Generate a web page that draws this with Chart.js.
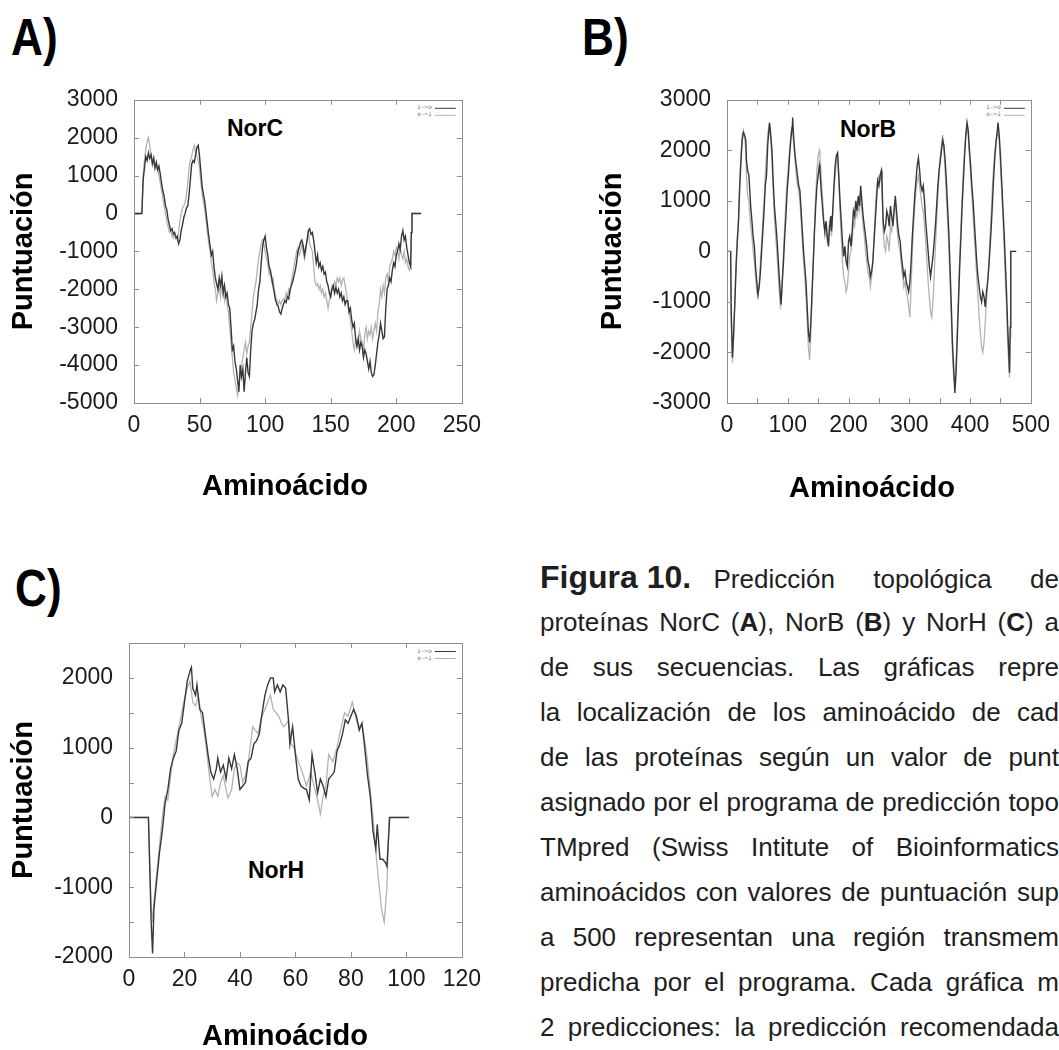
<!DOCTYPE html>
<html>
<head>
<meta charset="utf-8">
<script src="https://cdn.jsdelivr.net/npm/chart.js@4.4.0/dist/chart.umd.min.js"></script>
<style>
  html, body { margin: 0; padding: 0; background: #fff; }
  body { width: 1059px; height: 1050px; position: relative; overflow: hidden;
         font-family: 'Liberation Sans', Arial, sans-serif; color: #111; }
  canvas { position: absolute; }
  .tag { position: absolute; font-weight: bold; font-size: 52px; line-height: 1;
         transform: scaleX(0.85); transform-origin: 0 0; color: #000; }
  .prot { position: absolute; font-weight: bold; font-size: 23px; line-height: 1;
          transform: translate(-50%, -50%); background: #fff; padding: 2px 4px; color: #000; }
  .xtitle { position: absolute; font-weight: bold; font-size: 29px; line-height: 1;
            transform: translate(-50%, -50%); color: #000; white-space: nowrap; }
  .cap { position: absolute; left: 540px; width: 519px; height: 45px; line-height: 45px;
         font-size: 26px; text-align: justify; text-align-last: justify; color: #1e1e1e; }
  .cap .big { display: inline-block; font-weight: bold; font-size: 32px; margin-right: -16px; }
</style>
</head>
<body>

<div class="tag" style="left:11px;top:11px">A)</div>
<div class="tag" style="left:582px;top:11px">B)</div>
<div class="tag" style="left:15px;top:562px">C)</div>

<canvas id="chartA" width="490" height="432" style="left:0;top:70px"></canvas>
<canvas id="chartB" width="499" height="434" style="left:560px;top:70px"></canvas>
<canvas id="chartC" width="490" height="453" style="left:0;top:600px"></canvas>

<div class="prot" style="left:255px;top:128px">NorC</div>
<div class="prot" style="left:868px;top:129px">NorB</div>
<div class="prot" style="left:276px;top:870px">NorH</div>

<div class="xtitle" style="left:285px;top:485px">Aminoácido</div>
<div class="xtitle" style="left:872px;top:487px">Aminoácido</div>
<div class="xtitle" style="left:285px;top:1035px">Aminoácido</div>

<div class="cap" style="top:555px"><span class="big">Figura 10.</span> Predicción topológica de</div>
<div class="cap" style="top:600px">proteínas NorC (<b>A</b>), NorB (<b>B</b>) y NorH (<b>C</b>) a</div>
<div class="cap" style="top:645px">de sus secuencias. Las gráficas repre</div>
<div class="cap" style="top:690px">la localización de los aminoácido de cad</div>
<div class="cap" style="top:735px">de las proteínas según un valor de punt</div>
<div class="cap" style="top:780px">asignado por el programa de predicción topo</div>
<div class="cap" style="top:825px">TMpred (Swiss Intitute of Bioinformatics</div>
<div class="cap" style="top:870px">aminoácidos con valores de puntuación sup</div>
<div class="cap" style="top:915px">a 500 representan una región transmem</div>
<div class="cap" style="top:960px">predicha por el programa. Cada gráfica m</div>
<div class="cap" style="top:1005px">2 predicciones: la predicción recomendada</div>

<script>
// TMpred scores per residue: [aminoácido, puntuación]
const norcIO = [
  [0,0],[6,0],[7,900],[8,1200],[9,1500],[10,1400],[11,1600],[12,1450],[13,1550],[14,1300],[15,1450],
  [16,1200],[17,1350],[18,1150],[19,1250],[20,1050],[21,800],[22,600],[23,450],[24,200],[25,100],
  [26,-150],[27,-300],[28,-450],[29,-400],[30,-550],[31,-500],[32,-650],[33,-600],[34,-800],[35,-700],
  [36,-450],[37,-300],[38,-100],[39,0],[40,150],[41,200],[42,500],[43,900],[44,1300],[45,1400],
  [46,1350],[47,1550],[48,1750],[49,1800],[50,1500],[51,1100],[52,700],[53,500],[54,300],[55,0],
  [56,-300],[57,-600],[58,-850],[59,-1100],[60,-1000],[61,-1400],[62,-1700],[63,-1850],[64,-2000],[65,-1700],
  [66,-1900],[67,-1650],[68,-2100],[69,-1900],[70,-2200],[71,-2100],[72,-2400],[73,-2500],[74,-3000],[75,-3600],
  [76,-3500],[77,-3900],[78,-4100],[79,-4400],[80,-4700],[81,-4000],[82,-4300],[83,-4100],[84,-4700],[85,-4200],
  [86,-3800],[87,-4200],[88,-4300],[89,-3600],[90,-3100],[91,-2900],[92,-2800],[93,-2600],[94,-2400],[95,-2000],
  [96,-1800],[97,-1300],[98,-900],[99,-700],[100,-600],[101,-900],[102,-1100],[103,-1400],[104,-1500],[105,-1700],
  [106,-1900],[107,-2100],[108,-2300],[109,-2400],[110,-2450],[111,-2600],[112,-2650],[113,-2500],[114,-2400],[115,-2300],
  [116,-2350],[117,-2200],[118,-2250],[119,-2000],[120,-1900],[121,-1800],[122,-1650],[123,-1500],[124,-1300],[125,-1000],
  [126,-900],[127,-750],[128,-700],[129,-850],[130,-1100],[131,-900],[132,-700],[133,-450],[134,-400],[135,-550],
  [136,-500],[137,-700],[138,-1000],[139,-1300],[140,-1100],[141,-1400],[142,-1300],[143,-1500],[144,-1400],[145,-1600],
  [146,-1550],[147,-1800],[148,-1900],[149,-2100],[150,-2200],[151,-2000],[152,-1900],[153,-2100],[154,-1950],[155,-2100],
  [156,-2000],[157,-2200],[158,-2100],[159,-2300],[160,-2200],[161,-2400],[162,-2300],[163,-2300],[164,-2600],[165,-2500],
  [166,-2800],[167,-3000],[168,-2900],[169,-3300],[170,-3500],[171,-3300],[172,-3600],[173,-3400],[174,-3500],[175,-3800],
  [176,-3600],[177,-3700],[178,-3900],[179,-4100],[180,-3900],[181,-4200],[182,-4300],[183,-4250],[184,-4000],[185,-3700],
  [186,-3400],[187,-3200],[188,-2900],[189,-3100],[190,-3300],[191,-3250],[192,-2500],[193,-2000],[194,-1900],[195,-1700],
  [196,-1800],[197,-1500],[198,-1300],[199,-1400],[200,-1100],[201,-1000],[202,-800],[203,-950],[204,-600],[205,-450],
  [206,-700],[207,-600],[208,-900],[209,-1100],[210,-1300],[211,-1400],[211.5,-500],[212,0],[219,0]
];
const norcOI = [
  [0,0],[6,0],[7,1000],[8,1400],[9,1700],[10,1900],[11,2000],[12,1800],[13,1500],[14,1400],[15,1500],
  [16,1300],[17,1200],[18,1250],[19,1000],[20,800],[21,600],[22,400],[23,200],[24,0],[25,-200],
  [26,-350],[27,-500],[28,-450],[29,-600],[30,-650],[31,-550],[32,-600],[33,-700],[34,-500],[35,-200],
  [36,0],[37,150],[38,200],[39,300],[40,500],[41,800],[42,1200],[43,1400],[44,1500],[45,1700],
  [46,1800],[47,1600],[48,1500],[49,1400],[50,1200],[51,800],[52,500],[53,300],[54,100],[55,-200],
  [56,-500],[57,-800],[58,-1000],[59,-1300],[60,-1500],[61,-1800],[62,-2000],[63,-2300],[64,-2100],[65,-1900],
  [66,-2200],[67,-1800],[68,-2000],[69,-2300],[70,-2100],[71,-2400],[72,-2600],[73,-3000],[74,-3400],[75,-3800],
  [76,-4200],[77,-4400],[78,-4600],[79,-4800],[80,-4500],[81,-4300],[82,-4000],[83,-3800],[84,-3600],[85,-3400],
  [86,-3700],[87,-3500],[88,-3400],[89,-3000],[90,-2600],[91,-2200],[92,-2000],[93,-1800],[94,-1500],[95,-1200],
  [96,-1000],[97,-800],[98,-700],[99,-800],[100,-1000],[101,-1200],[102,-1300],[103,-1600],[104,-1500],[105,-1800],
  [106,-1700],[107,-2000],[108,-2200],[109,-2300],[110,-2400],[111,-2300],[112,-2400],[113,-2300],[114,-2250],[115,-2300],
  [116,-2100],[117,-2200],[118,-2000],[119,-2100],[120,-1800],[121,-1600],[122,-1400],[123,-1200],[124,-1000],[125,-900],
  [126,-1100],[127,-1000],[128,-800],[129,-1000],[130,-1200],[131,-1000],[132,-700],[133,-500],[134,-800],[135,-900],
  [136,-1000],[137,-1400],[138,-1800],[139,-1900],[140,-1850],[141,-2000],[142,-1900],[143,-2100],[144,-2000],[145,-2200],
  [146,-2100],[147,-2300],[148,-2500],[149,-2300],[150,-2100],[151,-1900],[152,-2000],[153,-1800],[154,-1900],[155,-1700],
  [156,-1800],[157,-1700],[158,-1900],[159,-1750],[160,-1700],[161,-1900],[162,-2100],[163,-2400],[164,-2600],[165,-2800],
  [166,-3100],[167,-3400],[168,-3600],[169,-3300],[170,-3500],[171,-3400],[172,-3100],[173,-3300],[174,-3400],[175,-3600],
  [176,-3200],[177,-3000],[178,-3300],[179,-3100],[180,-3200],[181,-3000],[182,-3300],[183,-3100],[184,-2900],[185,-3100],
  [186,-2600],[187,-2400],[188,-2000],[189,-2200],[190,-1900],[191,-2100],[192,-1700],[193,-1600],[194,-1800],[195,-1400],
  [196,-1300],[197,-1200],[198,-1000],[199,-1100],[200,-900],[201,-1000],[202,-1200],[203,-900],[204,-1100],[205,-1200],
  [206,-1000],[207,-1300],[208,-1200],[209,-1400],[210,-1500],[211,-1400],[211.5,-500],[212,0],[219,0]
];

const norbIO = [
  [0,0],[6,0],[7,-1200],[9,-2100],[11,-1600],[13,-1000],[15,-300],[17,200],[19,600],[21,1300],[23,1800],
  [25,2200],[27,2350],[29,2300],[31,2200],[32,1800],[34,1600],[36,1500],[37,1300],[39,900],[41,600],[43,300],
  [45,100],[47,-300],[49,-600],[51,-850],[53,-700],[55,-400],[57,0],[59,400],[61,800],[63,1300],[65,1500],
  [67,2100],[69,2400],[70,2550],[72,2300],[74,2000],[76,1400],[78,900],[80,600],[82,300],[84,-100],[86,-500],
  [88,-900],[89,-1050],[91,-600],[93,-200],[95,300],[97,700],[99,1200],[101,1500],[103,1900],[105,2200],[107,2450],
  [108,2650],[110,2200],[112,1900],[114,1700],[116,1500],[118,1300],[120,1200],[122,800],[124,400],[126,0],[128,-300],
  [130,-600],[132,-1100],[134,-1600],[136,-1800],[138,-1400],[140,-800],[142,-200],[144,400],[146,900],[148,1300],[150,1500],
  [152,1700],[153,1600],[155,1200],[157,900],[159,600],[161,400],[163,600],[165,300],[167,100],[169,500],[171,700],
  [172,400],[174,800],[176,1300],[178,1700],[180,1900],[182,1950],[184,1500],[186,1000],[188,600],[190,200],[192,-100],
  [194,100],[196,-200],[198,-300],[200,200],[202,300],[204,100],[206,400],[208,800],[210,700],[212,1000],[214,800],
  [216,1100],[218,900],[220,1300],[222,1000],[224,700],[226,500],[228,300],[230,100],[232,-200],[234,-300],[236,-500],
  [238,-400],[240,-200],[242,200],[244,600],[246,1000],[248,1400],[250,1300],[252,1500],[254,1600],[255,1400],[257,600],
  [259,400],[261,500],[263,800],[265,700],[267,500],[269,900],[271,700],[273,500],[275,800],[277,1100],[279,800],
  [281,500],[283,300],[285,200],[287,-100],[289,-300],[291,-500],[293,-400],[295,-600],[297,-700],[299,-800],[301,-600],
  [303,-200],[305,300],[307,700],[309,1100],[311,1400],[313,1700],[315,1850],[317,1600],[319,1300],[321,1200],[323,1300],
  [325,1000],[327,600],[329,300],[331,0],[333,-300],[335,-500],[337,-300],[339,-100],[341,200],[343,500],[345,900],
  [347,1300],[349,1600],[351,1800],[353,2000],[355,2200],[357,2100],[359,1800],[361,1400],[363,900],[365,400],[367,-300],
  [369,-1000],[371,-1800],[373,-2300],[375,-2800],[377,-2400],[379,-1700],[381,-1000],[383,-300],[385,300],[387,900],[389,1400],
  [391,1900],[393,2300],[395,2550],[397,2400],[399,2000],[401,1700],[403,1300],[405,1000],[407,600],[409,200],[411,-200],
  [413,-500],[415,-700],[417,-900],[419,-1000],[421,-800],[423,-900],[425,-1100],[427,-800],[429,-600],[431,-300],[433,100],
  [435,500],[437,1000],[439,1500],[441,1900],[443,2200],[445,2400],[446,2550],[448,2300],[450,1900],[452,1400],[454,900],
  [456,400],[458,-200],[460,-800],[462,-1500],[464,-2100],[465,-2400],[466,-1500],[467,0],[476,0]
];
const norbOI = [
  [0,0],[6,0],[7,-1500],[9,-2200],[11,-1700],[13,-900],[15,-200],[17,300],[19,700],[21,1400],[23,1900],
  [25,2300],[27,2400],[29,2250],[31,2000],[32,1500],[34,1100],[36,1000],[37,800],[39,500],[41,300],[43,0],
  [45,-200],[47,-500],[49,-800],[51,-900],[53,-600],[55,-200],[57,200],[59,600],[61,1000],[63,1500],[65,1900],
  [67,2300],[69,2500],[70,2500],[72,2200],[74,1800],[76,1200],[78,700],[80,300],[82,0],[84,-400],[86,-800],
  [88,-1100],[89,-1050],[91,-500],[93,0],[95,500],[97,1000],[99,1400],[101,1700],[103,2000],[105,2300],[107,2500],
  [108,2500],[110,2100],[112,1800],[114,1500],[116,1300],[118,1200],[120,1000],[122,600],[124,200],[126,-200],[128,-500],
  [130,-900],[132,-1400],[134,-1900],[136,-2150],[138,-1600],[140,-900],[142,-200],[144,500],[146,1100],[148,1600],[150,1900],
  [152,2000],[153,1900],[155,1500],[157,1100],[159,700],[161,300],[163,400],[165,200],[167,300],[169,600],[171,500],
  [172,300],[174,700],[176,1200],[178,1500],[180,1800],[182,1900],[184,1400],[186,800],[188,300],[190,-200],[192,-500],
  [194,-600],[196,-800],[198,-700],[200,-400],[202,-100],[204,0],[206,200],[208,600],[210,500],[212,800],[214,700],
  [216,900],[218,800],[220,1100],[222,800],[224,500],[226,300],[228,0],[230,-200],[232,-400],[234,-500],[236,-700],
  [238,-500],[240,-200],[242,300],[244,800],[246,1200],[248,1400],[250,1500],[252,1400],[254,1500],[255,1200],[257,400],
  [259,100],[261,0],[263,300],[265,200],[267,0],[269,500],[271,400],[273,600],[275,900],[277,1000],[279,600],
  [281,300],[283,100],[285,0],[287,-300],[289,-500],[291,-700],[293,-600],[295,-800],[297,-900],[299,-1100],[301,-1300],
  [303,-700],[305,0],[307,500],[309,900],[311,1200],[313,1400],[315,1500],[317,1300],[319,1100],[321,900],[323,800],
  [325,500],[327,200],[329,-200],[331,-600],[333,-900],[335,-1200],[337,-1300],[339,-1000],[341,-500],[343,100],[345,600],
  [347,1100],[349,1500],[351,1900],[353,2100],[355,2300],[357,2000],[359,1600],[361,1100],[363,600],[365,100],[367,-600],
  [369,-1300],[371,-2000],[373,-2500],[375,-2600],[377,-2200],[379,-1500],[381,-800],[383,-100],[385,500],[387,1100],[389,1600],
  [391,2000],[393,2300],[395,2450],[397,2300],[399,1900],[401,1500],[403,1100],[405,700],[407,300],[409,-100],[411,-500],
  [413,-900],[415,-1300],[417,-1600],[419,-1900],[421,-2000],[423,-1800],[425,-1400],[427,-1000],[429,-600],[431,-200],[433,300],
  [435,800],[437,1300],[439,1700],[441,2000],[443,2200],[445,2300],[446,2350],[448,2200],[450,1700],[452,1200],[454,700],
  [456,100],[458,-500],[460,-1100],[462,-1800],[464,-2300],[465,-2500],[466,-1700],[467,0],[476,0]
];

const norhIO = [
  [0,0],[7,0],[8,-1500],[8.5,-1950],[9,-1300],[10,-900],[11,-500],[12,-200],[13,200],[14,400],[15,700],
  [16,850],[17,950],[18,1250],[19,1350],[20,1650],[21,1950],[22,2100],[22.5,2150],[23,1850],[24,1750],[24.5,1900],
  [25.5,1550],[26.5,1500],[27.5,1200],[28.5,900],[29.5,650],[30.5,550],[31.5,700],[32,850],[33,650],[34,750],[35,550],
  [36,850],[37,700],[38,900],[39,700],[40,400],[41,450],[42,500],[43,800],[44,850],[45,1050],[46,1100],[47,1200],
  [48,1500],[49,1750],[50,1900],[51,2000],[52,2000],[52.5,1800],[53.5,1900],[54.5,1800],[55.5,1900],[56.5,1850],[57.5,1400],
  [58,1050],[59,1300],[60,900],[61,550],[62,450],[63,420],[64,400],[65,250],[66,900],[67,650],[68,350],
  [69,550],[70,450],[71,300],[72,550],[73,600],[74,650],[75,950],[76,1050],[77,1200],[78,1400],[79,1350],
  [80,1450],[81,1550],[82,1450],[83,1250],[84,1350],[85,1000],[86,600],[87,300],[88,-200],[89,-450],[89.5,-100],
  [90.5,-600],[91.5,-600],[92.5,-650],[93,-700],[94,0],[101,0]
];
const norhOI = [
  [0,0],[7,0],[8,-1300],[8.5,-1500],[9,-1200],[10,-800],[11,-400],[12,0],[13,300],[14,250],[15,600],
  [16,900],[17,1100],[18,1300],[19,1500],[20,1700],[21,1850],[22,1950],[22.5,1800],[23,1650],[24,1600],[25,1750],
  [26,1450],[27,1250],[28,950],[29,600],[30,300],[31,400],[32,300],[33,500],[34,600],[35,400],[35.7,280],
  [37,400],[38,700],[39,780],[40,750],[41,500],[42,600],[43,800],[44,1100],[44.6,1300],[45.5,1250],[46.5,1200],
  [47.5,1400],[48.5,1500],[50,1650],[51,1750],[52,1550],[53,1500],[54,1450],[55,1350],[55.7,1300],[57,1350],[57.5,1400],
  [58.5,1050],[59.5,1000],[61,800],[62.5,650],[64,450],[65.5,650],[67,400],[68,250],[69,50],[70,300],[71,450],
  [72,900],[73.5,800],[75,1000],[76,1200],[77.7,1500],[79,1450],[80.5,1650],[82,1400],[83,1300],[84,1350],[85,1100],
  [86,800],[87,400],[88,0],[89,-500],[90,-900],[91,-1300],[92,-1500],[93,-1000],[93.8,0],[101,0]
];

const seriesNames = ['i->o', 'o->i'];

// gnuplot-like frame: full border, inward tick marks on all sides, small key
const gnuFrame = {
  id: 'gnuFrame',
  afterDatasetsDraw(chart) {
    const { ctx, chartArea: a, scales: { x, y } } = chart;
    ctx.save();
    ctx.strokeStyle = '#8f8f8f';
    ctx.lineWidth = 1;
    ctx.beginPath();
    x.ticks.forEach(t => {
      const px = Math.round(x.getPixelForValue(t.value)) + 0.5;
      ctx.moveTo(px, a.bottom); ctx.lineTo(px, a.bottom - 5);
      ctx.moveTo(px, a.top); ctx.lineTo(px, a.top + 5);
    });
    y.ticks.forEach(t => {
      const py = Math.round(y.getPixelForValue(t.value)) + 0.5;
      ctx.moveTo(a.left, py); ctx.lineTo(a.left + 5, py);
      ctx.moveTo(a.right, py); ctx.lineTo(a.right - 5, py);
    });
    ctx.stroke();
    ctx.strokeRect(Math.round(a.left) + 0.5, Math.round(a.top) + 0.5,
                   Math.round(a.width), Math.round(a.height));

    ctx.font = '6px "DejaVu Sans Mono", monospace';
    ctx.textAlign = 'right';
    ctx.textBaseline = 'middle';
    chart.data.datasets.forEach((ds, i) => {
      const ly = a.top + 8 + i * 7;
      ctx.fillStyle = '#777';
      ctx.fillText(ds.label, a.right - 30, ly);
      ctx.strokeStyle = ds.borderColor;
      ctx.beginPath();
      ctx.moveTo(a.right - 27, ly + 0.5);
      ctx.lineTo(a.right - 6, ly + 0.5);
      ctx.stroke();
    });
    ctx.restore();
  }
};

const tickFont = { family: "'Liberation Sans', Arial, sans-serif", size: 23 };
const titleFont = { family: "'Liberation Sans', Arial, sans-serif", size: 29, weight: 'bold' };

function toXY(rows) {
  return rows.map(r => ({ x: r[0], y: r[1] }));
}

function drawPanel(id, io, oi, ax, box) {
  return new Chart(document.getElementById(id), {
    type: 'line',
    data: {
      datasets: [
        { label: seriesNames[0], data: toXY(io), borderColor: '#383838', borderWidth: 1.4,
          pointRadius: 0, tension: 0 },
        { label: seriesNames[1], data: toXY(oi), borderColor: '#b3b3b3', borderWidth: 1.3,
          pointRadius: 0, tension: 0 }
      ]
    },
    options: {
      responsive: false,
      animation: false,
      devicePixelRatio: 1,
      layout: { padding: { top: box.top, right: box.right, left: 0, bottom: 0 } },
      plugins: { legend: { display: false }, tooltip: { enabled: false } },
      scales: {
        x: {
          type: 'linear', min: ax.xMin, max: ax.xMax,
          grid: { display: false, drawTicks: false },
          border: { display: false },
          ticks: { stepSize: ax.xStep, autoSkip: false, maxRotation: 0, padding: 9,
                   font: tickFont, color: '#1a1a1a',
                   callback: v => (v % ax.xLabelEvery === 0 ? v : '') },
          afterFit: s => { s.height = box.xh; }
        },
        y: {
          min: ax.yMin, max: ax.yMax,
          grid: { display: false, drawTicks: false },
          border: { display: false },
          ticks: { stepSize: ax.yStep, autoSkip: false, padding: 16,
                   font: tickFont, color: '#1a1a1a',
                   callback: v => (v % 1000 === 0 && v <= ax.yLabelMax ? v : '') },
          title: { display: true, text: 'Puntuación', font: titleFont, color: '#000',
                   padding: { top: box.yTitle, bottom: 0 } },
          afterFit: s => { s.width = box.yw; }
        }
      }
    },
    plugins: [gnuFrame]
  });
}

drawPanel('chartA', norcIO, norcOI,
  { xMin: 0, xMax: 250, xStep: 50, xLabelEvery: 50, yMin: -5000, yMax: 3000, yStep: 1000, yLabelMax: 3000 },
  { top: 25, right: 28, xh: 99, yw: 134, yTitle: 7 });

drawPanel('chartB', norbIO, norbOI,
  { xMin: 0, xMax: 500, xStep: 50, xLabelEvery: 100, yMin: -3000, yMax: 3000, yStep: 1000, yLabelMax: 3000 },
  { top: 29, right: 14, xh: 101, yw: 167, yTitle: 36 });

drawPanel('chartC', norhIO, norhOI,
  { xMin: 0, xMax: 120, xStep: 20, xLabelEvery: 20, yMin: -2000, yMax: 2500, yStep: 500, yLabelMax: 2000 },
  { top: 43, right: 19, xh: 96, yw: 129, yTitle: 7 });
</script>
</body>
</html>
